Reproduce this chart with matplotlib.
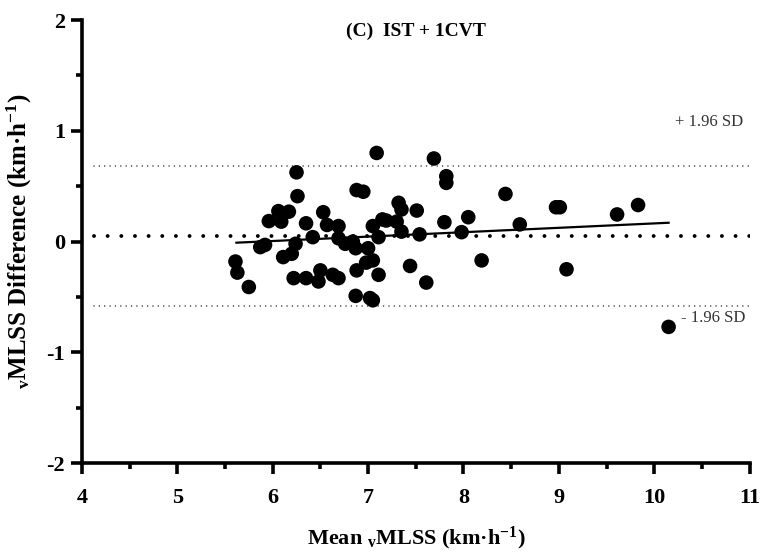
import numpy as np
import matplotlib
matplotlib.use("Agg")
import matplotlib.pyplot as plt
from matplotlib.ticker import MultipleLocator

plt.rcParams['font.family'] = ['Liberation Serif', 'DejaVu Serif']
plt.rcParams['mathtext.fontset'] = 'custom'
plt.rcParams['mathtext.rm'] = 'Liberation Serif:bold'
plt.rcParams['mathtext.bf'] = 'Liberation Serif:bold'
plt.rcParams['mathtext.it'] = 'Liberation Serif:bold:italic'
plt.rcParams['axes.unicode_minus'] = False

# mean vMLSS (x) and difference (y)
mean_v = [7.09, 6.25, 6.26, 6.88, 6.95, 7.69, 7.82, 7.82, 8.44, 7.32,
          7.35, 7.51, 6.06, 6.17, 6.09, 5.96, 6.53, 6.35, 6.57, 6.69,
          7.05, 7.15, 7.19, 7.30, 7.35, 7.54, 7.80, 8.05, 7.98, 6.42,
          6.69, 6.76, 6.84, 6.87, 7.11, 7.00, 5.87, 5.92, 6.24, 6.20,
          6.11, 5.61, 5.63, 5.75, 6.22, 6.35, 6.48, 6.50, 6.63, 6.69,
          6.88, 6.98, 7.05, 7.11, 6.87, 7.02, 7.05, 7.44, 7.61, 8.19,
          8.59, 8.97, 9.01, 9.61, 9.83, 9.08, 10.15]
diff_v = [0.80, 0.625, 0.41, 0.465, 0.45, 0.75, 0.59, 0.53, 0.43, 0.35,
          0.29, 0.28, 0.275, 0.27, 0.18, 0.185, 0.265, 0.165, 0.15, 0.14,
          0.14, 0.20, 0.19, 0.18, 0.09, 0.065, 0.175, 0.22, 0.085, 0.04,
          0.03, -0.02, 0.0, -0.06, 0.04, -0.06, -0.05, -0.03, -0.02, -0.11,
          -0.14, -0.18, -0.28, -0.41, -0.33, -0.33, -0.36, -0.26, -0.30, -0.33,
          -0.26, -0.19, -0.17, -0.30, -0.49, -0.51, -0.53, -0.22, -0.37, -0.17,
          0.155, 0.31, 0.31, 0.245, 0.33, -0.25, -0.77]

bias = 0.05
upper_loa = 0.685
lower_loa = -0.585
reg_x = [5.62, 10.15]
reg_y = [-0.01, 0.17]

fig = plt.figure(figsize=(7.65, 5.56), dpi=100)
ax = fig.add_axes([0.107, 0.167, 0.873, 0.797])

ax.plot([4.13, 11], [bias, bias], color='black', lw=2.8,
        linestyle=(0, (0.01, 3.5)), dash_capstyle='round')
for v in (upper_loa, lower_loa):
    ax.plot([4.13, 11], [v, v], color='#222222', lw=1.1,
            linestyle=(0, (0.01, 3.5)), dash_capstyle='round')

ax.plot(reg_x, reg_y, color='black', lw=1.6)
ax.scatter(mean_v, diff_v, s=110, color='black', edgecolors='none', zorder=3)

ax.text(10.22, 1.08, '+ 1.96 SD', fontsize=12, color='#333333', va='center')
ax.text(10.28, -0.69, '- 1.96 SD', fontsize=12, color='#333333', va='center')
ax.text(0.5, 0.975, '(C)  IST + 1CVT', transform=ax.transAxes, ha='center',
        va='center', fontsize=14, fontweight='bold')

ax.set_xlim(4, 11)
ax.set_ylim(-2, 2)
ax.xaxis.set_major_locator(MultipleLocator(1))
ax.xaxis.set_minor_locator(MultipleLocator(0.5))
ax.yaxis.set_major_locator(MultipleLocator(1))
ax.yaxis.set_minor_locator(MultipleLocator(0.5))

for s in ('top', 'right'):
    ax.spines[s].set_visible(False)
for s in ('left', 'bottom'):
    ax.spines[s].set_linewidth(2.6)
ax.tick_params(which='major', length=8, width=2.6, labelsize=16)
ax.tick_params(axis='x', which='major', pad=10)
ax.tick_params(axis='y', which='major', pad=4)
ax.tick_params(which='minor', length=4.5, width=2.6)
for lab in ax.get_xticklabels() + ax.get_yticklabels():
    lab.set_fontweight('bold')

ax.set_xlabel(r'Mean $_{\mathrm{v}}$MLSS (km·h$^{\mathrm{-1}}$)',
              fontsize=16, fontweight='bold', labelpad=12)
ax.set_ylabel(r'$_{\mathrm{v}}$MLSS Difference (km·h$^{\mathrm{-1}}$)',
              fontsize=18, fontweight='bold')
ax.yaxis.set_label_coords(-0.072, 0.5)

fig.savefig('out.png', dpi=100)
